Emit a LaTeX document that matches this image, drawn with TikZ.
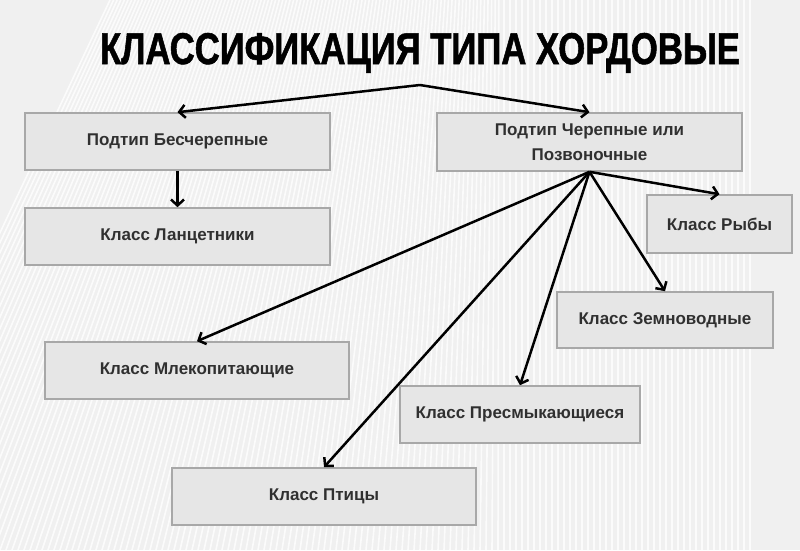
\documentclass[tikz,border=0pt]{standalone}
\usepackage{fontspec}
\setmainfont{Liberation Sans}
\newfontfamily\titlefont[FakeStretch=0.78,FakeBold=1.2]{Liberation Sans Bold}
\usetikzlibrary{arrows.meta}
\definecolor{boxfill}{HTML}{E6E6E6}
\definecolor{boxline}{HTML}{A8A8A8}
\definecolor{txt}{HTML}{303030}
\tikzset{
  box/.style={draw=boxline, line width=1.6pt, fill=boxfill, inner sep=2pt,
    align=center, text=txt, font=\fontsize{17}{25}\selectfont\bfseries},
  arr/.style={draw=black, line width=2.5pt, -{Straight Barb[length=6pt,width=13pt]}}
}
\begin{document}
\begin{tikzpicture}[x=1pt,y=-1pt]
\useasboundingbox (0,0) rectangle (800,550);
% background
\fill[gray!12] (0,0) rectangle (800,550);
\begin{scope}
\clip (0,0) rectangle (800,550);
\foreach \i in {0,...,150}{
  \pgfmathsetmacro{\xx}{\i*6-150}
  \pgfmathsetmacro{\dd}{max(0,260*(1-(\xx+150)/650))}
  \draw[white, line width=1.6pt, opacity=0.75] (\xx+\dd,0) -- (\xx,550);
}
\end{scope}
% title
\node[anchor=base, inner sep=0pt] (title) at (420,64)
  {\resizebox{640pt}{!}{\titlefont\fontsize{42}{46}\selectfont КЛАССИФИКАЦИЯ ТИПА ХОРДОВЫЕ}};
% boxes
\node[box, minimum width=305pt, minimum height=57pt] (bes) at (177.5,141.5) {Подтип Бесчерепные};
\node[box, minimum width=305pt, minimum height=57pt] (lan) at (177.5,236.5) {Класс Ланцетники};
\node[box, minimum width=305pt, minimum height=58pt] (cher) at (589.5,142) {Подтип Черепные или\\Позвоночные};
\node[box, minimum width=145pt, minimum height=58pt] (ryb) at (719.5,224) {Класс Рыбы};
\node[box, minimum width=216pt, minimum height=56pt] (zem) at (665,320) {Класс Земноводные};
\node[box, minimum width=240pt, minimum height=57pt] (pres) at (520,414.5) {Класс Пресмыкающиеся};
\node[box, minimum width=304pt, minimum height=57pt] (mlek) at (197,370.5) {Класс Млекопитающие};
\node[box, minimum width=304pt, minimum height=57pt] (pt) at (324,496.5) {Класс Птицы};
% connectors
\coordinate (apex) at (420,85);
\draw[arr] (apex) -- (bes.north);
\draw[arr] (apex) -- (cher.north);
\draw[arr] (bes.south) -- (lan.north);
\draw[arr] (cher.south) -- (ryb.north);
\draw[arr] (cher.south) -- (zem.north);
\draw[arr] (cher.south) -- (pres.north);
\draw[arr] (cher.south) -- (mlek.north);
\draw[arr] (cher.south) -- (pt.north);
\end{tikzpicture}
\end{document}
